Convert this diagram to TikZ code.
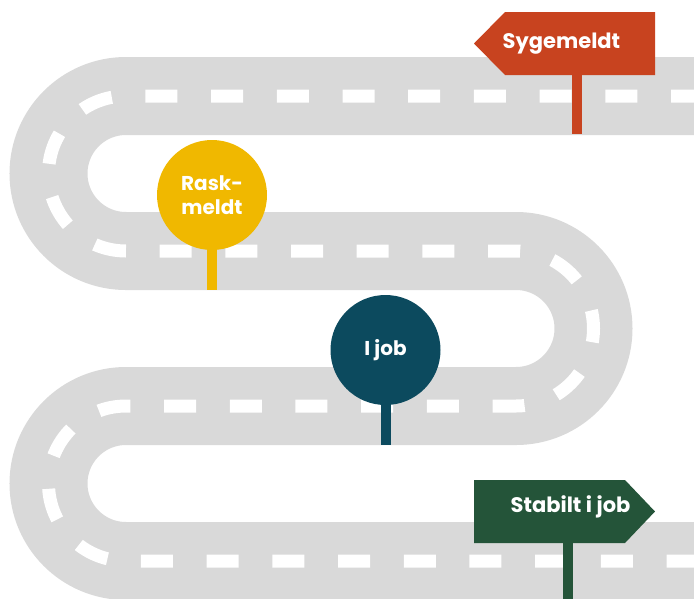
\documentclass[tikz,border=0pt]{standalone}
\usepackage{fontspec}
\setmainfont{Poppins}[BoldFont={Poppins Bold}]

\definecolor{roadgray}{HTML}{D9D9D9}
\definecolor{signred}{HTML}{C8431F}
\definecolor{signyellow}{HTML}{F0B800}
\definecolor{signteal}{HTML}{0C4A5E}
\definecolor{signgreen}{HTML}{245439}

\begin{document}
\begin{tikzpicture}[x=1pt,y=-1pt]
        \tikzstyle{road}=[draw=roadgray, line width=78pt]
        \tikzstyle{lane}=[draw=white, line width=13pt, dash pattern=on 32pt off 33.7pt, dash phase=48.7pt]
        \tikzstyle{post}=[line width=10pt]
        \tikzstyle{every node}=[text=white, font=\bfseries\fontsize{21}{24}\selectfont, inner sep=0pt]
        \tikzstyle{disc}=[circle, minimum size=110pt, align=center, font=\bfseries\fontsize{20}{24}\selectfont]
        \clip (0,0) rectangle (694,598);
        % the road
        \path[road, postaction={lane}] (720,96) -- (126,96) arc[start angle=90, end angle=270, radius=77.5pt]
            -- (516,251) arc[start angle=90, end angle=-90, radius=77.5pt]
            -- (126,406) arc[start angle=90, end angle=270, radius=77.5pt] -- (720,561);
        % posts
        \coordinate (sickfoot) at (577,134);
        \coordinate (raskfoot) at (212,290);
        \coordinate (jobfoot) at (386,445);
        \coordinate (stablefoot) at (568,600);
        \draw[post, signred] (577,60) -- (sickfoot);
        \draw[post, signyellow] (212,200) -- (raskfoot);
        \draw[post, signteal] (386,350) -- (jobfoot);
        \draw[post, signgreen] (568,520) -- (stablefoot);
        % signs
        \fill[signred] (474,43.5) -- (505,12) -- (655,12) -- (655,75) -- (505,75) -- cycle;
        \node[anchor=base] (sick) at (561.5,48.5) {Sygemeldt};
        \node[disc, fill=signyellow] (rask) at (212,195) {Rask-\\meldt};
        \node[disc, fill=signteal] (job) at (385.5,350) {I job};
        \fill[signgreen] (474,480) -- (625,480) -- (655,511.5) -- (625,543) -- (474,543) -- cycle;
        \node[anchor=base] (stable) at (570.5,512.5) {Stabilt i job};
\end{tikzpicture}
\end{document}
